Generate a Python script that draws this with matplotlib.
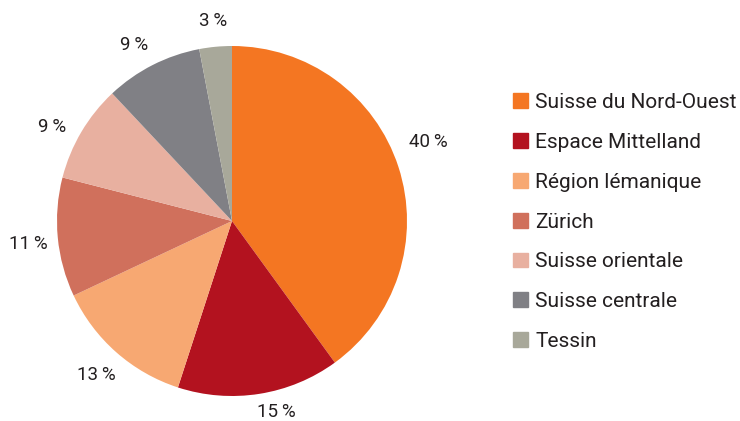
import matplotlib
matplotlib.use('Agg')
import matplotlib.pyplot as plt
import numpy as np

regions = ['Suisse du Nord-Ouest', 'Espace Mittelland', 'Région lémanique', 'Zürich',
           'Suisse orientale', 'Suisse centrale', 'Tessin']
shares = [40, 15, 13, 11, 9, 9, 3]
pct_labels = ['40\u2009%', '15\u2009%', '13\u2009%', '11\u2009%', '9\u2009%', '9\u2009%', '3\u2009%']
colors = ['#F47622', '#B3121F', '#F7A872', '#D0705C', '#E8B0A0', '#808085', '#A8A89A']

# label placement tweaks (radius, angle shift in degrees)
lab_r = [1.21, 1.12, 1.17, 1.17, 1.16, 1.15, 1.15]
lab_da = [4, 4, 0, 1, 3, 2, 0]

plt.rcParams['font.family'] = ['Roboto', 'DejaVu Sans']
txt_col = '#231F20'

W, H = 740, 421
fig = plt.figure(figsize=(W / 100, H / 100), dpi=100)

# pie centre (232, 221) px, radius 175 px
cx, cy, r = 232, 221, 175
ax = fig.add_axes([(cx - r) / W, (H - cy - r) / H, 2 * r / W, 2 * r / H])
wedges, _ = ax.pie(shares, colors=colors, startangle=90, counterclock=False,
                   wedgeprops=dict(linewidth=0))
ax.set_xlim(-1, 1)
ax.set_ylim(-1, 1)
ax.set_aspect('equal')
ax.axis('off')

for w, lab, lr, da in zip(wedges, pct_labels, lab_r, lab_da):
    ang = np.deg2rad((w.theta1 + w.theta2) / 2 + da)
    ax.text(lr * np.cos(ang), lr * np.sin(ang), lab, ha='center', va='center',
            fontsize=13.5, color=txt_col, clip_on=False)

handles = [plt.Rectangle((0, 0), 1, 1, color=c) for c in colors]
fig.legend(handles, regions, loc='upper left', bbox_to_anchor=(513 / W, 1 - 93 / H),
           frameon=False, fontsize=15, handlelength=0.72, handleheight=0.72,
           handletextpad=0.35, labelspacing=1.0, borderaxespad=0, borderpad=0,
           labelcolor=txt_col)

fig.savefig('out.png', dpi=100)
